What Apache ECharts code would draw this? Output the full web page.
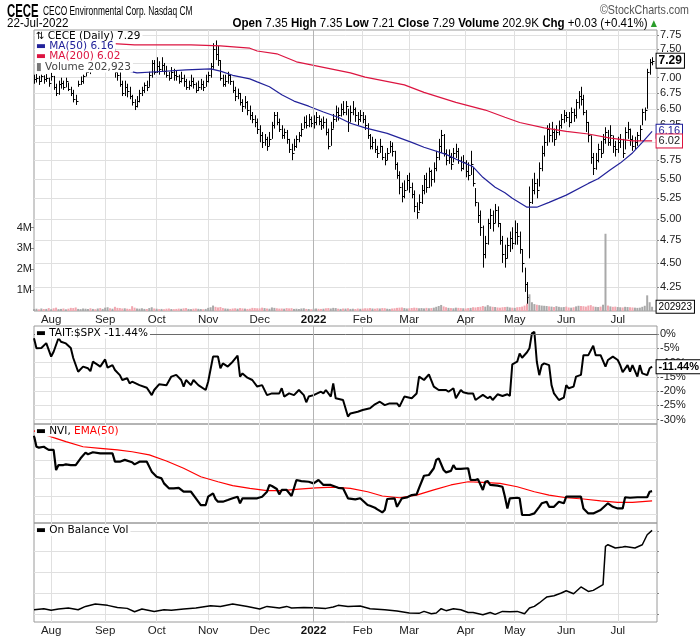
<!DOCTYPE html>
<html><head><meta charset="utf-8">
<script src="https://cdn.jsdelivr.net/npm/echarts@6/dist/echarts.min.js"></script>
<style>html,body{margin:0;padding:0;background:#fff}#c{width:700px;height:639px}</style>
</head><body><div id="c"></div>
<script>
// ---------------- DATA ----------------
const HOLIDAYS = ['2021-09-06','2021-11-25','2021-12-24','2022-01-17','2022-02-21','2022-04-15','2022-05-30','2022-06-20','2022-07-04'];
const FIRST_DAY = '2021-07-22', LAST_DAY = '2022-07-22';
const MONTHS = ['Jan','Feb','Mar','Apr','May','Jun','Jul','Aug','Sep','Oct','Nov','Dec'];
const lastOpen = 7.35;

const closes = [6.98,7.00,6.95,7.02,6.97,7.00,6.92,7.03,6.85,6.75,
 6.90,6.92,6.85,6.95,6.82,6.75,6.65,6.62,6.90,6.95,
 7.02,7.10,7.15,7.12,7.20,7.18,7.25,7.22,7.35,7.45,
 7.50,7.40,7.45,7.10,7.05,6.90,6.75,6.85,6.78,6.70,
 6.60,6.55,6.62,6.75,6.80,6.88,6.85,7.05,7.25,7.10,
 7.20,7.15,7.22,7.12,7.05,7.00,7.10,7.05,7.02,6.95,
 7.00,6.95,6.85,6.88,6.95,6.90,6.80,6.85,6.90,6.85,
 6.95,7.05,7.20,7.50,7.40,7.30,7.00,6.90,6.95,7.05,
 6.95,6.80,6.70,6.75,6.60,6.55,6.60,6.48,6.40,6.35,
 6.30,6.20,6.10,6.00,6.05,5.95,6.05,6.25,6.40,6.30,
 6.20,6.10,6.15,6.05,5.90,5.85,5.95,6.05,6.10,6.20,
 6.30,6.25,6.35,6.28,6.30,6.38,6.32,6.25,6.30,6.15,
 5.95,6.20,6.35,6.45,6.40,6.50,6.45,6.55,6.30,6.45,
 6.50,6.40,6.35,6.40,6.35,6.25,6.10,5.95,6.00,5.90,
 5.85,5.95,5.80,5.75,5.85,5.95,5.88,5.70,5.55,5.40,
 5.28,5.35,5.48,5.40,5.30,5.15,5.08,5.20,5.35,5.50,
 5.40,5.60,5.50,5.65,5.80,5.95,6.10,5.85,5.75,5.80,
 5.70,5.85,5.88,5.75,5.65,5.72,5.60,5.55,5.70,5.45,
 5.20,5.05,4.90,4.60,4.72,4.95,5.05,4.95,5.10,4.95,
 4.75,4.60,4.55,4.70,4.78,4.72,4.85,4.80,4.65,4.50,
 4.28,4.15,5.20,5.35,5.45,5.35,5.65,5.85,6.00,6.20,
 6.10,6.15,6.05,6.15,6.25,6.35,6.40,6.38,6.30,6.45,
 6.40,6.60,6.70,6.65,6.45,6.30,6.10,5.80,5.65,5.75,
 5.90,5.85,6.05,6.15,6.00,6.10,5.95,5.90,6.00,6.05,
 5.85,6.15,6.20,6.05,5.95,6.00,6.10,6.20,6.45,6.48,
 7.10,7.26,7.29];
const highs = [7.05,7.06,7.03,7.05,7.04,7.06,7.00,7.08,7.03,6.90,
 6.95,7.00,6.95,7.00,6.92,6.85,6.80,6.72,6.95,7.02,
 7.05,7.15,7.20,7.18,7.25,7.25,7.30,7.30,7.40,7.55,
 7.62,7.55,7.55,7.50,7.15,7.10,6.95,6.95,6.90,6.85,
 6.72,6.65,6.70,6.80,6.85,6.92,6.95,7.10,7.30,7.30,
 7.35,7.28,7.35,7.25,7.20,7.10,7.18,7.15,7.12,7.05,
 7.10,7.05,6.98,6.95,7.05,7.00,6.92,6.95,6.98,6.95,
 7.05,7.10,7.25,7.60,7.65,7.55,7.30,7.05,7.05,7.10,
 7.05,6.95,6.85,6.82,6.75,6.65,6.70,6.62,6.55,6.45,
 6.40,6.35,6.25,6.15,6.12,6.08,6.15,6.30,6.45,6.45,
 6.35,6.25,6.20,6.18,6.05,5.98,6.05,6.10,6.15,6.28,
 6.38,6.40,6.42,6.38,6.40,6.45,6.40,6.35,6.38,6.35,
 6.20,6.30,6.42,6.55,6.52,6.58,6.62,6.62,6.50,6.55,
 6.62,6.52,6.45,6.48,6.45,6.40,6.28,6.12,6.08,6.05,
 5.95,6.05,5.95,5.85,5.92,6.02,6.00,5.88,5.72,5.60,
 5.45,5.48,5.55,5.58,5.45,5.35,5.20,5.30,5.42,5.55,
 5.58,5.65,5.62,5.72,5.88,6.05,6.18,6.12,5.90,5.90,
 5.85,5.92,5.98,5.92,5.80,5.82,5.75,5.72,5.88,5.65,
 5.38,5.20,5.10,4.92,4.80,5.00,5.12,5.10,5.18,5.15,
 4.95,4.80,4.70,4.78,4.85,4.90,4.98,4.95,4.85,4.65,
 4.45,4.30,5.40,5.50,5.58,5.50,5.72,5.95,6.10,6.25,
 6.28,6.30,6.20,6.25,6.32,6.42,6.48,6.45,6.45,6.52,
 6.50,6.65,6.78,6.85,6.72,6.48,6.30,6.10,5.85,5.85,
 5.98,6.02,6.12,6.22,6.18,6.25,6.10,6.02,6.08,6.12,
 6.05,6.22,6.30,6.20,6.10,6.08,6.15,6.25,6.50,6.52,
 7.15,7.32,7.35];
const lows = [6.90,6.92,6.88,6.93,6.90,6.93,6.85,6.95,6.80,6.70,
 6.72,6.82,6.80,6.84,6.78,6.70,6.60,6.56,6.85,6.88,
 6.90,7.02,7.08,7.06,7.10,7.12,7.15,7.16,7.20,7.30,
 7.40,7.35,7.35,7.00,6.95,6.85,6.70,6.70,6.68,6.65,
 6.55,6.48,6.52,6.60,6.70,6.75,6.78,6.85,7.00,7.05,
 7.08,7.05,7.10,7.05,7.00,6.95,6.98,6.95,6.95,6.90,
 6.92,6.85,6.80,6.80,6.85,6.82,6.75,6.78,6.80,6.78,
 6.85,6.92,7.00,7.15,7.30,7.20,6.95,6.85,6.85,6.90,
 6.88,6.75,6.62,6.65,6.55,6.45,6.50,6.40,6.33,6.28,
 6.22,6.12,6.00,5.92,5.95,5.88,5.95,6.05,6.20,6.25,
 6.15,6.05,6.05,5.98,5.85,5.75,5.88,5.92,6.00,6.08,
 6.20,6.20,6.22,6.22,6.20,6.25,6.25,6.18,6.20,6.10,
 5.90,5.95,6.20,6.30,6.32,6.38,6.40,6.40,6.15,6.30,
 6.40,6.30,6.25,6.30,6.28,6.18,6.05,5.90,5.90,5.85,
 5.78,5.85,5.75,5.68,5.75,5.85,5.80,5.62,5.50,5.30,
 5.20,5.25,5.35,5.32,5.25,5.08,5.00,5.10,5.18,5.30,
 5.32,5.38,5.40,5.45,5.60,5.75,5.85,5.80,5.68,5.70,
 5.62,5.72,5.78,5.70,5.60,5.62,5.52,5.48,5.55,5.40,
 5.15,4.95,4.80,4.45,4.55,4.70,4.88,4.85,4.95,4.90,
 4.70,4.50,4.45,4.55,4.62,4.65,4.70,4.70,4.60,4.40,
 4.20,4.07,4.55,5.18,5.30,5.25,5.40,5.60,5.80,5.95,
 6.00,6.00,5.95,6.05,6.10,6.20,6.28,6.30,6.22,6.28,
 6.30,6.35,6.50,6.55,6.40,6.15,6.00,5.70,5.55,5.62,
 5.72,5.78,5.85,5.98,5.95,5.95,5.85,5.80,5.85,5.92,
 5.78,5.90,6.05,5.95,5.88,5.90,5.95,6.02,6.25,6.32,
 6.50,7.05,7.21];
// volume, thousands of shares
const volumesK = [90,110,80,120,95,100,140,85,130,160,
 90,100,120,80,110,150,140,170,100,90,
 120,110,95,130,100,85,120,140,100,160,
 180,130,110,200,150,140,120,130,110,100,
 230,160,120,110,130,100,95,140,180,120,
 110,90,100,85,110,120,95,90,100,115,
 105,125,140,100,90,110,120,105,95,85,
 100,150,180,260,200,170,190,140,120,110,
 100,120,130,110,140,125,115,100,110,150,
 140,130,125,160,140,120,110,170,150,130,
 115,120,110,140,125,135,100,110,95,120,
 130,100,95,85,110,120,105,100,110,130,
 140,120,150,140,110,100,120,115,130,100,
 110,95,120,105,115,130,125,140,120,110,
 130,120,140,135,110,100,120,130,150,160,
 170,140,120,130,145,160,150,130,140,125,
 150,130,140,160,200,240,290,220,180,150,
 140,130,160,150,140,130,120,140,150,180,
 170,190,200,240,210,280,220,200,190,170,
 160,180,190,200,170,160,150,180,190,210,
 260,350,800,420,330,300,280,260,250,240,
 220,210,190,230,200,180,190,210,170,160,
 180,220,250,240,230,210,260,280,220,200,
 190,210,300,3700,260,220,200,210,190,180,
 170,200,190,180,170,160,150,160,200,250,
 750,420,202.923];
// moving averages (visible part): [day index, value]
const ma50Pts = [[34,7.15],[42,7.08],[50,7.10],[62,7.13],[72,7.15],[76,7.11],[81,7.04],[88,6.98],[91,6.93],[96,6.85],[101,6.72],[106,6.62],[112,6.54],[118,6.45],[124,6.37],[129,6.28],[135,6.21],[144,6.13],[154,6.00],[159,5.93],[168,5.83],[173,5.75],[179,5.66],[183,5.52],[188,5.39],[192,5.32],[195,5.25],[201,5.14],[205,5.14],[210,5.20],[217,5.29],[226,5.44],[230,5.50],[235,5.62],[239,5.71],[244,5.85],[248,6.00],[252,6.16]];
const ma200Pts = [[29,7.60],[41,7.57],[64,7.57],[76,7.55],[88,7.51],[91,7.46],[99,7.41],[107,7.27],[114,7.21],[121,7.15],[129,7.08],[135,7.01],[151,6.88],[159,6.76],[172,6.60],[184,6.48],[192,6.37],[198,6.29],[208,6.21],[217,6.16],[226,6.12],[235,6.06],[244,6.02],[252,6.02]];
// TAIT:$SPX relative performance, %
const rsPts = [[0,-1.5],[1,-5.0],[3,-4.9],[5,-3.2],[7,-7.9],[8,-6.2],[10,-1.4],[11,-2.7],[13,-3.3],[15,-4.9],[16,-8.4],[18,-13.2],[20,-11.4],[22,-12.0],[23,-13.0],[24,-9.7],[26,-10.8],[27,-11.4],[29,-8.9],[30,-11.8],[32,-10.9],[33,-12.6],[35,-14.4],[36,-16.1],[38,-15.5],[39,-17.3],[40,-16.7],[43,-17.9],[46,-18.8],[48,-21.4],[49,-19.6],[51,-17.6],[54,-17.9],[56,-14.9],[58,-14.3],[60,-16.1],[61,-18.4],[62,-16.1],[64,-17.9],[65,-16.1],[67,-17.9],[70,-19.6],[71,-16.7],[73,-7.9],[75,-7.9],[76,-12.0],[77,-10.3],[79,-11.4],[81,-9.7],[83,-7.6],[84,-14.9],[85,-13.8],[87,-15.3],[89,-16.1],[91,-18.4],[93,-17.9],[95,-21.4],[97,-20.8],[100,-20.8],[101,-19.0],[102,-21.9],[104,-20.8],[106,-21.4],[108,-19.6],[110,-21.4],[111,-23.9],[112,-21.9],[114,-21.4],[117,-20.2],[118,-20.8],[119,-19.6],[121,-21.9],[122,-17.3],[123,-22.5],[126,-23.1],[128,-28.9],[129,-27.8],[132,-27.2],[134,-26.6],[137,-26.0],[139,-24.6],[141,-23.7],[143,-24.9],[145,-24.3],[148,-24.3],[149,-25.4],[151,-21.9],[154,-22.5],[156,-20.8],[157,-14.9],[159,-16.1],[161,-14.1],[163,-18.4],[165,-19.6],[168,-19.6],[169,-20.2],[171,-19.0],[172,-22.5],[174,-19.6],[175,-20.4],[177,-20.8],[179,-20.8],[180,-23.1],[181,-22.5],[183,-21.3],[185,-22.5],[186,-21.9],[187,-23.1],[189,-21.1],[191,-21.7],[193,-21.1],[194,-21.7],[195,-10.6],[197,-9.7],[198,-6.8],[199,-8.3],[201,-6.4],[202,-5.0],[203,0.2],[204,0.8],[205,-9.7],[206,-14.4],[207,-10.9],[208,-10.3],[210,-10.9],[211,-17.9],[212,-20.8],[214,-23.1],[216,-22.3],[217,-17.9],[218,-19.0],[220,-18.4],[221,-14.9],[223,-14.3],[224,-7.4],[226,-7.4],[228,-4.1],[229,-7.4],[231,-7.4],[233,-11.4],[234,-9.1],[236,-7.9],[238,-9.1],[239,-10.9],[240,-13.4],[242,-10.9],[243,-13.2],[244,-10.9],[246,-14.9],[247,-10.9],[248,-13.8],[250,-14.4],[251,-12.0],[252,-11.44]];
// Negative Volume Index (relative units) and its EMA(50)
const nviPts = [[0,100.39],[1,99.77],[2,99.72],[4,99.77],[5,99.68],[6,99.59],[8,99.59],[9,98.46],[10,98.74],[12,98.74],[13,98.78],[15,98.74],[17,98.74],[19,99.12],[21,99.44],[22,99.35],[24,99.46],[27,99.40],[30,99.40],[32,99.40],[33,98.93],[35,98.93],[37,99.03],[40,98.90],[41,98.78],[43,98.93],[46,98.93],[48,98.37],[50,98.08],[52,97.99],[53,97.71],[55,97.43],[57,97.43],[59,97.46],[61,97.24],[64,97.24],[66,96.87],[68,96.49],[70,96.49],[71,96.96],[73,97.15],[74,96.83],[75,96.68],[77,96.68],[79,96.77],[81,96.87],[83,96.96],[84,96.59],[85,96.87],[91,96.87],[93,96.96],[95,97.24],[96,97.62],[97,97.56],[99,97.39],[100,97.09],[101,97.34],[103,97.34],[105,97.00],[107,97.90],[109,97.84],[112,97.80],[114,97.71],[116,97.90],[118,97.62],[121,97.62],[124,97.46],[126,97.43],[128,96.87],[131,96.81],[133,96.87],[136,96.49],[137,96.45],[139,96.34],[140,96.25],[142,96.08],[143,96.21],[144,96.83],[147,96.87],[148,96.39],[150,96.87],[152,96.92],[154,97.05],[156,97.09],[157,97.46],[159,98.14],[161,98.18],[163,98.56],[164,99.03],[165,99.12],[167,98.46],[168,98.33],[170,98.41],[171,98.74],[172,98.52],[174,98.52],[177,98.56],[178,97.90],[180,97.90],[181,97.95],[183,97.34],[184,97.80],[185,97.84],[186,97.62],[189,97.58],[191,97.52],[192,96.96],[193,96.30],[194,96.87],[197,96.90],[198,96.87],[199,95.93],[202,95.93],[204,96.02],[206,96.39],[207,96.59],[209,96.68],[210,96.39],[212,96.39],[214,96.68],[216,96.59],[217,96.96],[223,96.96],[224,96.30],[226,96.02],[228,96.02],[231,96.21],[234,96.59],[236,96.39],[238,96.30],[240,96.30],[241,96.93],[243,96.90],[246,96.93],[250,96.93],[251,97.24],[252,97.27]];
const emaPts = [[0,100.66],[8,100.28],[13,100.06],[20,99.77],[27,99.68],[34,99.59],[40,99.49],[47,99.31],[54,98.97],[61,98.56],[68,98.08],[75,97.80],[81,97.58],[88,97.43],[95,97.30],[101,97.30],[108,97.39],[115,97.46],[122,97.50],[129,97.43],[136,97.24],[142,97.00],[149,96.90],[156,97.05],[163,97.34],[170,97.62],[177,97.80],[183,97.77],[190,97.71],[197,97.52],[204,97.24],[210,97.05],[217,96.90],[224,96.83],[231,96.72],[238,96.64],[244,96.64],[252,96.73]];
// On Balance Volume, millions (relative)
const obvPts = [[0,0.41],[4,0.51],[7,0.35],[10,0.48],[14,0.58],[18,0.41],[21,0.73],[25,0.96],[30,0.83],[34,0.63],[38,0.54],[41,0.22],[44,0.48],[49,0.25],[53,0.41],[56,0.35],[61,0.48],[66,0.58],[72,0.80],[76,0.73],[81,0.96],[87,0.73],[92,0.48],[95,0.73],[100,0.58],[103,0.73],[105,0.58],[110,0.63],[114,0.61],[119,0.54],[122,0.67],[124,0.83],[128,0.73],[133,0.77],[137,0.51],[143,0.41],[148,0.29],[153,0.10],[157,0.06],[159,0.25],[162,0.03],[164,0.10],[166,0.51],[168,0.32],[171,0.51],[174,0.41],[177,0.15],[179,0.15],[183,-0.07],[186,0.15],[188,-0.04],[191,0.25],[194,0.22],[197,0.25],[200,0.03],[202,0.58],[204,0.73],[206,1.06],[208,1.44],[209,1.63],[212,1.76],[215,2.02],[217,2.24],[220,1.95],[223,2.60],[226,2.17],[228,2.27],[232,2.82],[233,6.50],[234,6.66],[237,6.35],[240,6.44],[241,6.50],[245,6.35],[248,6.66],[250,7.62],[252,8.04]];
// axis tick values
const priceTicks = [4.25,4.50,4.75,5.00,5.25,5.50,5.75,6.00,6.25,6.50,6.75,7.00,7.25,7.50,7.75];
const volTicksK = [1000,2000,3000,4000];
const rsTicks = [-30,-25,-20,-15,-10,-5,0];
const nviTicks = [96,97,98,99,100];
const obvTicks = [0,2,4,6,8];

// ---------------- BUILD ----------------
function tradingDays(from, to) {
  const out = [];
  const d = new Date(from + 'T00:00:00Z'), end = new Date(to + 'T00:00:00Z');
  while (d <= end) {
    const wd = d.getUTCDay(), s = d.toISOString().slice(0, 10);
    if (wd !== 0 && wd !== 6 && HOLIDAYS.indexOf(s) < 0) out.push(s);
    d.setUTCDate(d.getUTCDate() + 1);
  }
  return out;
}
const dates = tradingDays(FIRST_DAY, LAST_DAY);
const N = dates.length;
const last = N - 1;
const cats = dates.concat(['pad-1', 'pad-2']);
function isMonthStart(i) { return i > 0 && i < N && dates[i].slice(5, 7) !== dates[i - 1].slice(5, 7); }
const yearIdx = dates.findIndex(d => d.slice(0, 4) === '2022');
function monthFmt(v) { const m = +v.slice(5, 7); return m === 1 ? '{y|' + v.slice(0, 4) + '}' : MONTHS[m - 1]; }

const LIB = "'Liberation Sans',Arial,sans-serif";
const SANS = LIB;
const DV = "'DejaVu Sans',Verdana,sans-serif";
const NAVY = '#22229a', CRIMSON = '#dc1440';
const GRID_BORDER = '#9a9a9a', GRID_LINE = '#e0e0e0';

const lastClose = closes[last], prevClose = closes[last - 1];
const chg = lastClose - prevClose;
const lastVolK = volumesK[last];
const lastMA50 = ma50Pts[ma50Pts.length - 1][1], lastMA200 = ma200Pts[ma200Pts.length - 1][1];
const lastRS = rsPts[rsPts.length - 1][1];

const gridPos = [[30, 281], [326, 98], [424, 99], [523, 99]];
const grid = gridPos.map(g => ({ left: 34, right: 43, top: g[0], height: g[1], show: true,
  borderColor: GRID_BORDER, borderWidth: 1, backgroundColor: 'transparent', containLabel: false, outerBoundsMode: 'none' }));

function xAxis(gi, labels) {
  return { type: 'category', gridIndex: gi, data: cats, boundaryGap: false,
    axisLine: { show: false }, axisTick: { show: false },
    axisLabel: { show: labels, interval: (i) => isMonthStart(i), formatter: monthFmt, margin: 3,
      fontSize: 11.5, color: '#222', fontFamily: LIB, rich: { y: { fontWeight: 'bold', fontSize: 11.5, fontFamily: LIB, color: '#111' } } },
    splitLine: { show: true, interval: (i) => isMonthStart(i), lineStyle: { color: GRID_LINE, width: 1 } } };
}
const hiddenLbl = { show: false };
const yAxis = [
  { type: 'log', logBase: 10, gridIndex: 0, position: 'right', min: 4.013, max: 7.843,
    axisLine: { show: false },
    axisTick: { show: true, length: 2, customValues: priceTicks, lineStyle: { color: '#888' } },
    axisLabel: { customValues: priceTicks, formatter: v => v.toFixed(2), margin: 3, fontSize: 11, color: '#222', fontFamily: SANS },
    splitLine: { show: true, lineStyle: { color: GRID_LINE } } },
  { type: 'value', gridIndex: 0, position: 'left', min: 0, max: 13460,
    axisLine: { show: false },
    axisTick: { show: true, length: 3, customValues: volTicksK, lineStyle: { color: '#888' } },
    axisLabel: { customValues: volTicksK, formatter: v => (v / 1000) + 'M', margin: 2, fontSize: 11, color: '#222', fontFamily: SANS },
    splitLine: { show: false } },
  { type: 'value', gridIndex: 1, position: 'right', min: -31.5, max: 2.8,
    axisLine: { show: false },
    axisTick: { show: true, length: 2, customValues: rsTicks, lineStyle: { color: '#888' } },
    axisLabel: { customValues: rsTicks, formatter: v => v + '%', margin: 3, fontSize: 11, color: '#222', fontFamily: SANS },
    splitLine: { show: true, lineStyle: { color: GRID_LINE } } },
  { type: 'value', gridIndex: 2, position: 'right', min: 95.48, max: 101.05,
    axisLine: { show: false }, axisTick: { show: false, customValues: nviTicks }, axisLabel: hiddenLbl,
    splitLine: { show: true, lineStyle: { color: GRID_LINE } } },
  { type: 'value', gridIndex: 3, position: 'right', min: -0.77, max: 8.75,
    axisLine: { show: false }, axisTick: { show: true, length: 2, customValues: obvTicks, lineStyle: { color: '#888' } }, axisLabel: hiddenLbl,
    splitLine: { show: true, lineStyle: { color: GRID_LINE } } }
];

function tag(y, text, border, textColor, bold, fs) {
  return { coord: [last, y], value: y, symbol: 'rect', symbolSize: 1, itemStyle: { color: 'rgba(0,0,0,0)' },
    label: { show: true, position: 'right', distance: 4, formatter: text, color: textColor, backgroundColor: '#fff',
      borderColor: border, borderWidth: 1, padding: [1, 2, 0, 2], fontSize: fs, fontWeight: bold ? 'bold' : 'normal', fontFamily: SANS, lineHeight: fs + 1 } };
}
const yearLine = (color) => ({ silent: true, symbol: 'none', label: { show: false }, animation: false,
  lineStyle: { color: color || '#b4b4b4', width: 1, type: 'solid' }, data: [{ xAxis: dates[yearIdx] }] });

const series = [
  { name: 'Volume', type: 'bar', xAxisIndex: 0, yAxisIndex: 1, barWidth: 2, clip: false,
    data: volumesK.map((v, i) => ({ value: v, itemStyle: { color: (i > 0 && closes[i] < closes[i - 1]) ? '#f2a7b0' : '#a9a9a9' } })),
    markLine: yearLine(),
    markPoint: { data: [ tag(lastVolK, String(Math.round(lastVolK * 1000)), '#000', '#000', false, 10) ] } },
  { name: 'Price', type: 'custom', xAxisIndex: 0, yAxisIndex: 0,
    data: closes.map((c, i) => [i, highs[i], lows[i], c]),
    encode: { x: 0, y: [1, 2, 3] },
    renderItem: function (params, api) {
      const i = api.value(0);
      const h = api.coord([i, api.value(1)]), l = api.coord([i, api.value(2)]), c = api.coord([i, api.value(3)]);
      const x = Math.round(h[0]) + 0.5;
      return { type: 'group', children: [
        { type: 'line', shape: { x1: x, y1: h[1], x2: x, y2: l[1] }, style: { stroke: '#000', lineWidth: 1 } },
        { type: 'line', shape: { x1: x, y1: Math.round(c[1]) + 0.5, x2: x + 2, y2: Math.round(c[1]) + 0.5 }, style: { stroke: '#000', lineWidth: 1 } }
      ] };
    } },
  { name: 'MA(200)', type: 'line', xAxisIndex: 0, yAxisIndex: 0, data: ma200Pts, symbol: 'none', clip: false,
    lineStyle: { color: CRIMSON, width: 1.2 }, z: 3 },
  { name: 'MA(50)', type: 'line', xAxisIndex: 0, yAxisIndex: 0, data: ma50Pts, symbol: 'none', clip: false,
    lineStyle: { color: NAVY, width: 1.2 }, z: 3,
    markPoint: { data: [
      tag(lastClose, lastClose.toFixed(2), '#000', '#000', true, 12),
      tag(lastMA50, lastMA50.toFixed(2), NAVY, NAVY, false, 11),
      tag(lastMA200, lastMA200.toFixed(2), CRIMSON, '#222', false, 11)
    ] } },
  { name: 'TAIT:$SPX', type: 'line', xAxisIndex: 1, yAxisIndex: 2, data: rsPts, symbol: 'none', clip: false,
    lineStyle: { color: '#000', width: 2 },
    markLine: { silent: true, symbol: 'none', label: { show: false }, animation: false,
      data: [ { yAxis: 0, lineStyle: { color: '#6a6a6a', width: 1, type: 'solid' } },
              { xAxis: dates[yearIdx], lineStyle: { color: '#b4b4b4', width: 1, type: 'solid' } } ] },
    markPoint: { data: [ tag(lastRS, lastRS.toFixed(2) + '%', '#000', '#000', true, 11) ] } },
  { name: 'NVI', type: 'line', xAxisIndex: 2, yAxisIndex: 3, data: nviPts, symbol: 'none',
    lineStyle: { color: '#000', width: 2.2 }, z: 3, markLine: yearLine() },
  { name: 'EMA(50)', type: 'line', xAxisIndex: 2, yAxisIndex: 3, data: emaPts, symbol: 'none',
    lineStyle: { color: '#ff0000', width: 1.2 }, z: 2 },
  { name: 'OBV', type: 'line', xAxisIndex: 3, yAxisIndex: 4, data: obvPts, symbol: 'none',
    lineStyle: { color: '#000', width: 1.5 }, markLine: yearLine() }
];

const lg = (text, left, top, rich, color) => ({ text, left, top, padding: [0, 2, 0, 1], backgroundColor: '#fff',
  textStyle: { fontSize: 10.5, fontWeight: 'normal', fontFamily: DV, color: color || '#000', lineHeight: 11, rich } });
const dashRich = (c) => ({ d: { color: c, fontSize: 10.5, fontFamily: DV, lineHeight: 11 } });

const title = [
  lg('{i|⇅} CECE (Daily) ' + lastClose.toFixed(2), 35, 31, { i: { fontSize: 10, color: '#000', fontFamily: DV } }),
  lg('{d|▬} MA(50) ' + lastMA50.toFixed(2), 35, 41, dashRich(NAVY), NAVY),
  lg('{d|▬} MA(200) ' + lastMA200.toFixed(2), 35, 51, dashRich(CRIMSON), CRIMSON),
  lg('{d|▮} Volume ' + Math.round(lastVolK * 1000).toLocaleString('en-US'), 35, 61.5, dashRich('#777'), '#444'),
  lg('{d|▬} TAIT:$SPX ' + lastRS.toFixed(2) + '%', 35, 327.5, dashRich('#000')),
  lg('{d|▬} NVI, {r|EMA(50)}', 35, 425.5, Object.assign(dashRich('#000'), { r: { color: '#ff0000', fontSize: 10.5, fontFamily: DV, lineHeight: 11 } })),
  lg('{d|▬} On Balance Vol', 35, 525, dashRich('#000'))
];

// header (condensed look via horizontal scaling)
const sgn = v => (v >= 0 ? '+' : '') ;
const hdrLine2 = '{b|Open} ' + lastOpen.toFixed(2) + ' {b|High} ' + highs[last].toFixed(2) + ' {b|Low} ' + lows[last].toFixed(2) +
  ' {b|Close} ' + lastClose.toFixed(2) + ' {b|Volume} ' + lastVolK.toFixed(1) + 'K {b|Chg} ' + sgn(chg) + chg.toFixed(2) +
  ' (' + sgn(chg) + (chg / prevClose * 100).toFixed(2) + '%) {g|▲}';
const graphic = [
  { type: 'text', x: 7, y: 2, scaleX: 0.6, style: { text: 'CECE', fontSize: 19, fontWeight: 'bold', fontFamily: LIB, fill: '#000', verticalAlign: 'top' } },
  { type: 'text', x: 43, y: 5, scaleX: 0.67, style: { text: 'CECO Environmental Corp. Nasdaq CM', fontSize: 12.5, fontFamily: LIB, fill: '#000', verticalAlign: 'top' } },
  { type: 'text', x: 689, y: 4, scaleX: 0.82, style: { text: '©StockCharts.com', fontSize: 13, fontFamily: LIB, fill: '#555', align: 'right', verticalAlign: 'top' } },
  { type: 'text', x: 7, y: 17, scaleX: 0.93, style: { text: '22-Jul-2022', fontSize: 12.5, fontFamily: LIB, fill: '#000', verticalAlign: 'top' } },
  { type: 'text', x: 657, y: 17, scaleX: 0.89, style: { text: hdrLine2, fontSize: 13, fontFamily: LIB, fill: '#000', align: 'right', verticalAlign: 'top',
      rich: { b: { fontWeight: 'bold', fontSize: 13, fontFamily: LIB, fill: '#000' }, g: { fontSize: 9, fill: '#2a9d2a', fontFamily: DV } } } }
];

const option = {
  animation: false,
  backgroundColor: '#fff',
  title,
  graphic,
  grid,
  xAxis: [xAxis(0, true), xAxis(1, false), xAxis(2, false), xAxis(3, true)],
  yAxis,
  series
};
const chart = echarts.init(document.getElementById('c'), null, { renderer: 'canvas' });
chart.setOption(option);
</script>
</body></html>
